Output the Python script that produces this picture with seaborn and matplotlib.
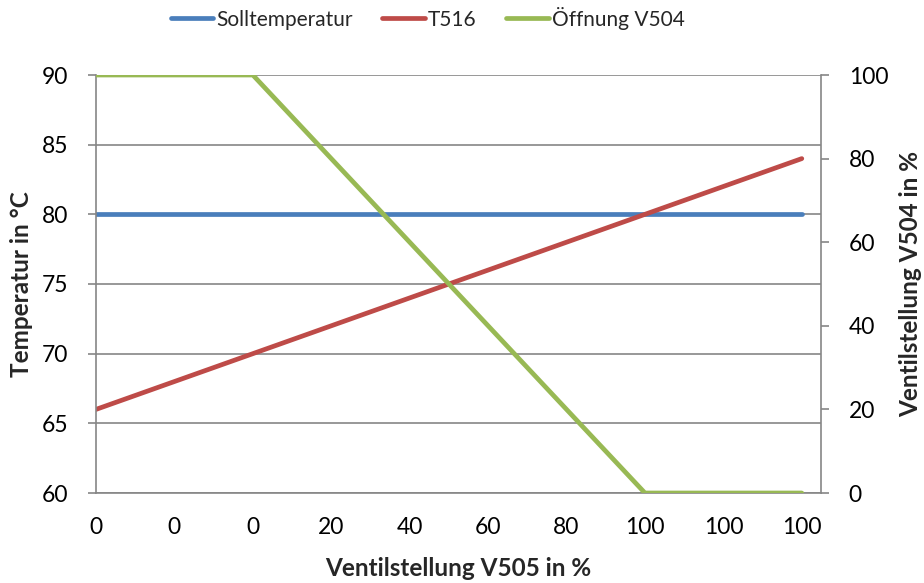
import matplotlib
matplotlib.use("Agg")
import matplotlib.pyplot as plt
import seaborn as sns
import pandas as pd
import numpy as np

# ---- data ----
v505 = [0, 0, 0, 0, 0, 10, 20, 30, 40, 50, 60, 70, 80, 90, 100, 100, 100, 100, 100]
soll = [80] * 19
t516 = [66, 67, 68, 69, 70, 71, 72, 73, 74, 75, 76, 77, 78, 79, 80, 81, 82, 83, 84]
v504 = [100, 100, 100, 100, 100, 90, 80, 70, 60, 50, 40, 30, 20, 10, 0, 0, 0, 0, 0]
left_ticks = [60, 65, 70, 75, 80, 85, 90]
right_ticks = [0, 20, 40, 60, 80, 100]

c_blue = "#4A7EBB"
c_red = "#BE4B48"
c_green = "#98B954"
c_axis = "#868686"

sns.set_theme(style="white")
plt.rcParams["font.family"] = ["Lato", "DejaVu Sans"]

idx = np.arange(len(v505))
df = pd.DataFrame({"i": idx, "Solltemperatur": soll, "T516": t516, "Öffnung V504": v504})

fig = plt.figure(figsize=(9.24, 5.83), dpi=100)
ax = fig.add_axes([96/924, 1-493/583, (821-96)/924, (493-75)/583])
ax2 = ax.twinx()

lw = 3.4
sns.lineplot(data=df, x="i", y="Solltemperatur", ax=ax, color=c_blue, lw=lw, label="Solltemperatur", legend=False)
sns.lineplot(data=df, x="i", y="T516", ax=ax, color=c_red, lw=lw, label="T516", legend=False)
sns.lineplot(data=df, x="i", y="Öffnung V504", ax=ax2, color=c_green, lw=lw, label="Öffnung V504", legend=False)

for l in ax.lines + ax2.lines:
    l.set_solid_capstyle("round")

ax.set_xlim(0, 18.49)
ax.set_ylim(60, 90)
ax2.set_ylim(0, 100)
ax.set_yticks(left_ticks)
ax2.set_yticks(right_ticks)
ax.set_xticks(idx)
ax.set_xticklabels([str(v) if i % 2 == 0 else "" for i, v in enumerate(v505)])

ax.yaxis.grid(True, color=c_axis, lw=1.2)
ax.set_axisbelow(True)

fs = 16.5
for a in (ax, ax2):
    for s in a.spines.values():
        s.set_visible(False)
    a.tick_params(axis="both", colors=c_axis, labelcolor="black", labelsize=fs,
                  length=6, width=1.2, direction="out")
ax.spines["left"].set_visible(True)
ax.spines["bottom"].set_visible(True)
ax2.spines["right"].set_visible(True)
for s in (ax.spines["left"], ax.spines["bottom"], ax2.spines["right"]):
    s.set_color(c_axis)
    s.set_linewidth(1.2)
ax.tick_params(axis="y", pad=14)
ax2.tick_params(axis="y", pad=14)
ax.tick_params(axis="x", pad=11)

lfs = 17.5
ax.set_xlabel("Ventilstellung V505 in %", fontsize=lfs, fontweight="bold")
ax.set_ylabel("Temperatur in °C", fontsize=lfs, fontweight="bold")
ax2.set_ylabel("Ventilstellung V504 in %", fontsize=lfs, fontweight="bold")
W, H = 821 - 96, 493 - 75
ax.xaxis.set_label_coords((458 - 96) / W, (493 - 568) / H)
ax.yaxis.set_label_coords((22 - 96) / W, (493 - 284) / H)
ax2.yaxis.set_label_coords((911 - 96) / W, (493 - 284) / H)
for lab in (ax.xaxis.label, ax.yaxis.label, ax2.yaxis.label):
    lab.set_va("center")
    lab.set_ha("center")

h1, l1 = ax.get_legend_handles_labels()
h2, l2 = ax2.get_legend_handles_labels()
fig.legend(h1 + h2, l1 + l2, loc="center left", bbox_to_anchor=(152/924, 1-18/583), ncol=3,
           frameon=False, fontsize=15, handlelength=2.05, handletextpad=0.15, columnspacing=1.4)

fig.savefig("out.png", dpi=100)
